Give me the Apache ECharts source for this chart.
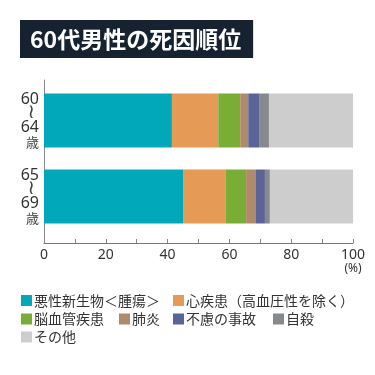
<!DOCTYPE html>
<html><head><meta charset="utf-8">
<script src="https://cdn.jsdelivr.net/npm/echarts@6/dist/echarts.min.js"></script>
<style>html,body{margin:0;padding:0;background:#fff}#c{width:375px;height:375px}</style>
</head><body><div id="c"></div>
<script>
const titleText = '60代男性の死因順位';
const categories = ['60～64歳', '65～69歳'];
const seriesNames = ['悪性新生物＜腫瘍＞', '心疾患（高血圧性を除く）', '脳血管疾患', '肺炎', '不慮の事故', '自殺', 'その他'];
const malignant = [41.4, 45.0];
const heart = [15.0, 13.7];
const cerebro = [7.1, 6.7];
const pneumonia = [2.6, 3.2];
const accident = [3.5, 2.9];
const suicide = [3.2, 1.6];
const other = [27.2, 26.9];
const xTicks = [0, 20, 40, 60, 80, 100];
const colors = ['#00a8ba', '#e59a55', '#79ad35', '#b08b6b', '#5b6499', '#86898d', '#cdcdcd'];
const values = [malignant, heart, cerebro, pneumonia, accident, suicide, other];

const FONT = "'Noto Sans CJK JP', 'Noto Sans', sans-serif";
const chart = echarts.init(document.getElementById('c'), null, {renderer: 'canvas'});

const legendPos = [
  {left: 21, top: 293.5}, {left: 173, top: 293.5},
  {left: 21, top: 312}, {left: 119, top: 312}, {left: 173, top: 312}, {left: 273, top: 312},
  {left: 21, top: 330}
];

const option = {
  animation: false,
  title: {
    text: titleText, left: 20, top: 20,
    backgroundColor: '#172230', padding: [7, 12, 7, 10],
    textStyle: {color: '#fff', fontSize: 23, fontWeight: 'bold', fontFamily: FONT, lineHeight: 24}
  },
  legend: seriesNames.map((n, i) => ({
    data: [n], left: legendPos[i].left, top: legendPos[i].top, padding: 0,
    itemWidth: 11, itemHeight: 11, icon: 'rect', selectedMode: false,
    textStyle: {fontSize: 14, color: '#333', fontFamily: FONT, padding: [0, 0, 0, -3]}
  })),
  grid: [
    {left: 44, right: 22, top: 80, bottom: 132},
    {left: 44, right: 22, top: 82.5, bottom: 140.5}
  ],
  xAxis: [
    {
      gridIndex: 0, type: 'value', min: 0, max: 100, interval: 10,
      axisLine: {show: true, lineStyle: {color: '#777', width: 1}},
      axisTick: {show: true, inside: true, length: 4, lineStyle: {color: '#888'}},
      splitLine: {show: false},
      axisLabel: {
        margin: 5, color: '#333', fontSize: 14, fontFamily: "'Noto Sans', sans-serif",
        formatter: v => xTicks.indexOf(v) < 0 ? '' : (v === 100 ? '{a|100}\n{b|(%)}' : String(v)),
        rich: {a: {fontSize: 14, color: '#333', lineHeight: 14, fontFamily: "'Noto Sans', sans-serif"},
               b: {fontSize: 12, color: '#333', lineHeight: 13, fontFamily: "'Noto Sans', sans-serif"}}
      }
    },
    {gridIndex: 1, type: 'value', min: 0, max: 100, show: false}
  ],
  yAxis: [
    {
      gridIndex: 0, type: 'value', min: 0, max: 1,
      axisLine: {show: true, lineStyle: {color: '#888', width: 1}},
      axisTick: {show: false}, axisLabel: {show: false}, splitLine: {show: false}
    },
    {
      gridIndex: 1, type: 'category', data: categories, inverse: true,
      axisLine: {show: false}, axisTick: {show: false}, splitLine: {show: false},
      axisLabel: {
        margin: 5, align: 'right',
        formatter: v => {
          const m = v.match(/^(\d+)～(\d+)(.*)$/);
          return '{n|' + m[1] + '}\n{w|≀}\n{n|' + m[2] + '}\n{s|' + m[3] + '}';
        },
        rich: {
          n: {fontSize: 16, color: '#333', lineHeight: 15, fontFamily: "'Noto Sans', sans-serif", align: 'right'},
          w: {fontSize: 20, color: '#444', lineHeight: 13, fontFamily: "'DejaVu Sans', sans-serif", align: 'right', padding: [0, 4, 0, 0]},
          s: {fontSize: 13, color: '#444', lineHeight: 15, fontFamily: FONT, align: 'right'}
        }
      }
    }
  ],
  series: seriesNames.map((n, i) => ({
    name: n, type: 'bar', stack: 'all', xAxisIndex: 1, yAxisIndex: 1,
    barWidth: 54, data: values[i], itemStyle: {color: colors[i]}
  }))
};
chart.setOption(option);
</script></body></html>
